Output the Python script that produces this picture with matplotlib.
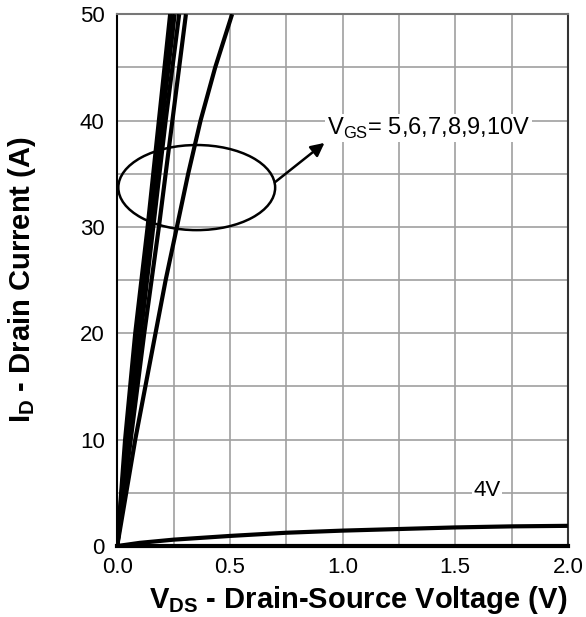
import matplotlib

matplotlib.use('Agg')
from matplotlib import pyplot as plt
from matplotlib.patches import Ellipse

plt.rcParams['font.family'] = ['Liberation Sans', 'DejaVu Sans']
plt.rcParams['mathtext.fontset'] = 'custom'
plt.rcParams['mathtext.rm'] = 'Liberation Sans'
plt.rcParams['mathtext.bf'] = 'Liberation Sans:bold'

# Output characteristics (V, A)
vds_10v = [0.0, 0.035, 0.08, 0.135, 0.185, 0.235]
id_10v = [0, 10, 20, 30, 40, 50]
vds_9v = [0.0, 0.04, 0.085, 0.14, 0.19, 0.245]
id_9v = [0, 10, 20, 30, 40, 50]
vds_8v = [0.0, 0.045, 0.095, 0.15, 0.2, 0.255]
id_8v = [0, 10, 20, 30, 40, 50]
vds_7v = [0.0, 0.05, 0.105, 0.16, 0.215, 0.275]
id_7v = [0, 10, 20, 30, 40, 50]
vds_6v = [0.0, 0.06, 0.12, 0.185, 0.245, 0.305]
id_6v = [0, 10, 20, 30, 40, 50]
vds_5v = [0.0, 0.04, 0.08, 0.125, 0.17, 0.215, 0.265, 0.315, 0.37, 0.435, 0.51]
id_5v = [0, 5, 10, 15, 20, 25, 30, 35, 40, 45, 50]
vds_4v = [0.0, 0.1, 0.25, 0.5, 0.75, 1.0, 1.25, 1.5, 1.75, 2.0]
id_4v = [0.0, 0.3, 0.6, 0.95, 1.25, 1.45, 1.6, 1.75, 1.85, 1.9]

fig = plt.figure(figsize=(5.86, 6.17), dpi=100)
ax = fig.add_axes([0.2, 0.115, 0.769, 0.862])

for x, y in [(vds_10v, id_10v), (vds_9v, id_9v), (vds_8v, id_8v),
             (vds_7v, id_7v), (vds_6v, id_6v), (vds_5v, id_5v),
             (vds_4v, id_4v)]:
    ax.plot(x, y, color='black', lw=3, solid_capstyle='butt', zorder=3)

ax.set_xlim(0, 2.0)
ax.set_ylim(0, 50)
ax.set_xticks([0.0, 0.5, 1.0, 1.5, 2.0])
ax.set_xticks([0.25, 0.75, 1.25, 1.75], minor=True)
ax.set_yticks([0, 10, 20, 30, 40, 50])
ax.set_yticks([5, 15, 25, 35, 45], minor=True)
ax.set_xticklabels(['0.0', '0.5', '1.0', '1.5', '2.0'])
ax.tick_params(which='both', length=0, labelsize=16)
ax.tick_params(axis='x', pad=8)
ax.tick_params(axis='y', pad=9)
ax.grid(which='both', color='#a0a0a0', lw=1.2)
ax.set_axisbelow(True)

ax.spines['bottom'].set_linewidth(3)
ax.spines['left'].set_linewidth(1.5)
ax.spines['right'].set_color('#333333')
ax.spines['right'].set_linewidth(1.5)
ax.spines['top'].set_color('#777777')
ax.spines['top'].set_linewidth(1.5)

ax.set_xlabel(r'$\mathbf{V_{DS}}$ - Drain-Source Voltage (V)', fontsize=21,
              fontweight='bold')
ax.set_ylabel(r'$\mathbf{I_{D}}$ - Drain Current (A)', fontsize=21,
              fontweight='bold')
ax.xaxis.set_label_coords(0.535, -0.072)
ax.yaxis.set_label_coords(-0.175, 0.5)

ax.add_patch(Ellipse((0.353, 33.7), 0.696, 8.0, fill=False, ec='black',
                     lw=1.8, zorder=4))
ax.annotate('', xy=(0.92, 37.9), xytext=(0.70, 34.2),
            arrowprops=dict(arrowstyle='-|>', color='black', lw=1.8,
                            mutation_scale=20, shrinkA=0, shrinkB=0),
            zorder=4)
ax.text(0.93, 39.3, r'V$_{\mathregular{GS}}$= 5,6,7,8,9,10V', fontsize=17,
        va='center', ha='left', zorder=5,
        bbox=dict(facecolor='white', edgecolor='none', pad=1))
ax.text(1.64, 5.2, '4V', fontsize=16, va='center', ha='center', zorder=5,
        bbox=dict(facecolor='white', edgecolor='none', pad=1))

plt.savefig('out.png', dpi=100)
